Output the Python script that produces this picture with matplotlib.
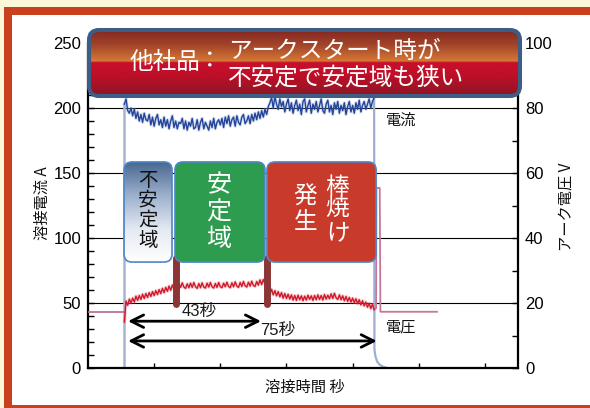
import numpy as np
import matplotlib
matplotlib.use("Agg")
import matplotlib.pyplot as plt
from matplotlib.patches import FancyBboxPatch, Rectangle
from matplotlib.ticker import MultipleLocator
import matplotlib.colors as mcolors

plt.rcParams['font.family'] = ['Liberation Sans', 'Noto Sans CJK JP', 'DejaVu Sans']
CJK = ['Noto Sans CJK JP', 'DejaVu Sans']

# ---------------- data ----------------
SAMPLE_STEP = 0.5          # s between samples
ARC_START = 11.0           # s, first sample of the weld
welding_current = [        # A
    203, 207, 198, 196, 200,
    194, 199, 192, 197, 190, 195, 189, 196, 191,
    190, 195, 187, 193, 186, 192, 195, 187, 191, 185, 193, 186, 191, 184, 190, 194, 185, 190, 184, 189,
    188, 192, 184, 190, 183, 189, 186, 192, 184, 185, 191, 183, 189, 192, 184, 189, 186, 183, 190, 185,
    192, 184, 189, 191,
    187, 192, 185, 193, 188, 194, 186, 191, 193, 186, 194, 189, 187, 193, 195, 188, 190, 194, 188, 195,
    190, 196,
    191, 197, 192, 198, 193, 199, 195, 201,
    204, 208, 200, 209, 203, 199, 207, 201,
    205, 197, 203, 207, 198, 204, 196, 202, 206, 198,
    203, 195, 205, 207, 197, 202, 206, 196, 203, 199,
    205, 197, 202, 207, 198, 196, 203, 206, 197, 202,
    195, 204, 199, 205, 196, 202, 198, 204, 195, 201,
    205, 197, 202, 196, 204, 199, 206, 197, 202, 205,
    199, 203, 207, 200, 205, 208,
]
arc_voltage = [            # V
    14.2, 20.6, 19.3, 21.2, 20.0,
    21.5, 20.3, 22.1, 20.8, 22.3, 21.1, 22.7, 21.4, 22.9,
    21.7, 23.2, 22.0, 23.5, 22.3, 23.8, 22.6, 24.1, 22.9, 24.5, 23.2, 24.8, 23.6, 25.2, 23.9, 25.5, 24.3,
    25.8, 24.6, 26.0, 24.8, 26.2, 24.9, 24.5, 25.9, 24.7, 26.1,
    24.8, 26.3, 25.0, 24.5, 26.0, 24.7, 26.2, 24.9, 24.6, 26.1,
    24.9, 26.3, 25.0, 24.6, 26.0, 24.8, 26.3, 25.0, 24.7, 26.1,
    25.0, 26.4, 25.1, 24.7, 26.2, 25.0, 26.5, 25.2, 24.8, 26.3,
    25.1, 26.6, 25.3, 24.9, 26.4, 25.2, 26.7, 25.4, 25.1, 26.6,
    25.5, 27.1, 25.7, 27.2, 25.9, 27.3,
    24.4, 22.8, 24.2, 22.5, 23.8, 22.2, 23.5, 21.9, 23.2, 21.5, 22.9, 21.4,
    22.7, 21.2, 22.5, 20.9, 22.3, 20.8, 22.4, 21.0, 22.2, 20.7,
    22.1, 20.9, 22.4, 21.1, 22.2, 20.8, 22.3, 21.0, 22.5, 21.1,
    22.3, 20.9, 22.6, 21.2, 22.4, 21.3, 22.8,
    21.4, 23.0, 21.6, 21.1, 22.5, 21.0, 22.2, 20.7, 22.0, 20.5, 21.7, 20.3, 21.5,
    20.1, 21.3, 19.8, 21.0, 19.4, 20.7, 19.1, 20.3, 18.7, 19.9, 18.3, 19.6, 18.0,
]
pre_arc_current_time = [0.0, 10.9, 10.9]
pre_arc_current = [0, 0, 203]
end_current_time = [86.5, 86.6, 86.9, 87.4, 88.2, 89.3, 90.5]
end_current = [208, 14, 9, 5, 2.5, 0.8, 0]
pre_arc_voltage_time = [0.0, 10.9]
pre_arc_voltage = [17.3, 17.3]
end_voltage_time = [86.5, 87.1, 87.2, 88.2, 88.4, 105.5]
end_voltage = [18.0, 18.4, 55.4, 55.4, 17.3, 17.3]

zone_labels = ['不安定域', '安定域', '棒焼け発生']
zone_spans = [(10.9, 25.4), (26.3, 53.5), (54.1, 87.1)]   # s
boundary_times = [26.5, 54.1]                              # s
arrow_start = 12.1
arrow_ends = [52.3, 87.3]
arrow_labels = ['43秒', '75秒']

left_ticks = [0, 50, 100, 150, 200, 250]
right_ticks = [0, 20, 40, 60, 80, 100]
x_ticks = [20, 40, 60, 80, 100, 120]
grid_levels = [50, 100, 150, 200]

title_head = '他社品'
title_lines = ['アークスタート時が', '不安定で安定域も狭い']

# ---------------- figure ----------------
W, H = 590, 408
fig = plt.figure(figsize=(W / 100, H / 100), dpi=100)
fig.patch.set_facecolor('#fdf7da')

bg = fig.add_axes([0, 0, 1, 1], zorder=-5)
bg.set_xlim(0, W); bg.set_ylim(0, H); bg.axis('off')
bg.add_patch(Rectangle((4, -20), 700, H - 7 + 20, facecolor='#c8401d', edgecolor='none'))
bg.add_patch(Rectangle((12, 3), 700, H - 15 - 3, facecolor='white', edgecolor='none'))

ax = fig.add_axes([88 / W, 40 / H, 430 / W, 325 / H])
ax.set_zorder(1)
ax.set_facecolor('none')
ax2 = ax.twinx()
ax2.set_zorder(2)
ax.set_xlim(0, 130); ax.set_ylim(0, 250)
ax2.set_ylim(0, 100)

for g in grid_levels:
    ax.axhline(g, color='black', lw=0.8, zorder=1)

# current
t_cur = ARC_START + SAMPLE_STEP * np.arange(len(welding_current))
ax.plot(pre_arc_current_time, pre_arc_current, color='#a7b3d5', lw=1.8, zorder=2)
ax.plot(end_current_time, end_current, color='#9eadd2', lw=1.6, zorder=2)
ax.plot(t_cur, welding_current, color='#8ea3d3', lw=2.4, alpha=0.35, zorder=2.5)
ax.plot(t_cur, welding_current, color='#23449a', lw=1.0, zorder=3)

# voltage
t_vol = ARC_START + SAMPLE_STEP * np.arange(len(arc_voltage))
ax2.plot(pre_arc_voltage_time, pre_arc_voltage, color='#b8668c', lw=1.2, zorder=2)
ax2.plot(end_voltage_time, end_voltage, color='#c47899', lw=1.3, zorder=2)
ax2.plot(t_vol, arc_voltage, color='#e27a84', lw=2.4, alpha=0.35, zorder=2.5)
ax2.plot(t_vol, arc_voltage, color='#d0192a', lw=1.0, zorder=3)

# zone boundary bars
for tb in boundary_times:
    ax2.plot([tb, tb], [49.2, 85], transform=ax.transData, color='#8b3536', lw=5,
             solid_capstyle='round', zorder=4)

# duration arrows
arrow_y = [36, 20.8]
label_pos = [(33.6, 43.8), (57.3, 28.5)]
for end, y, lab, (lx, ly) in zip(arrow_ends, arrow_y, arrow_labels, label_pos):
    ax2.annotate('', xy=(end, y), xytext=(arrow_start, y), xycoords=ax.transData,
                 textcoords=ax.transData,
                 arrowprops=dict(arrowstyle='<->,head_length=0.9,head_width=0.45', lw=2.0,
                                 color='black', shrinkA=0, shrinkB=0, mutation_scale=10),
                 zorder=5)
    ax2.text(lx, ly, lab, transform=ax.transData, ha='center', va='center', fontsize=12,
             color='#1a1a1a', zorder=5)

ax2.text(94.8, 190.8, '電流', transform=ax.transData, ha='center', va='center',
         fontsize=11, family=CJK, color='#111111')
ax2.text(94.8, 31.9, '電圧', transform=ax.transData, ha='center', va='center',
         fontsize=11, family=CJK, color='#111111')

# ticks / spines
ax.set_yticks(left_ticks)
ax.set_yticklabels([str(v) for v in left_ticks])
ax.yaxis.set_minor_locator(MultipleLocator(10))
ax.tick_params(axis='y', which='both', direction='in', length=4.6, width=1.0,
               labelsize=12, pad=5)
ax.set_xticks(x_ticks)
ax.tick_params(axis='x', which='both', direction='in', length=3.6, width=1.0,
               labelbottom=False)
ax2.set_yticks(right_ticks)
ax2.set_yticklabels([str(v) for v in right_ticks])
ax2.yaxis.set_minor_locator(MultipleLocator(10))
ax2.tick_params(axis='y', which='both', direction='in', length=4.6, width=1.0,
                labelsize=12, pad=5)
ax.spines['top'].set_visible(False)
ax.spines['right'].set_visible(False)
for s in ('left', 'bottom'):
    ax.spines[s].set_linewidth(1.6)
for s in ('top', 'left', 'bottom'):
    ax2.spines[s].set_visible(False)
ax2.spines['right'].set_linewidth(1.6)
ax.set_xlim(0, 130); ax.set_ylim(0, 250); ax2.set_ylim(0, 100)

# ---------------- overlay (pixel coordinates) ----------------
ov = fig.add_axes([0, 0, 1, 1], zorder=3)
ov.set_facecolor('none')
ov.set_xlim(0, W); ov.set_ylim(0, H); ov.axis('off')


def vgrad(ys_img, stops_y, stops_c):
    rgb = np.array([mcolors.to_rgb(c) for c in stops_c])
    return np.stack([np.interp(ys_img, stops_y, rgb[:, k]) for k in range(3)], axis=1)[:, None, :]


def d2p(t, a):
    return ax.transData.transform((t, a))


box_lo, box_hi = 81.5, 158.5
zone_fill = [None, '#2e9c4e', '#c83b2a']
zone_rects = []
for (t0, t1), fill in zip(zone_spans, zone_fill):
    x0, y0 = d2p(t0, box_lo)
    x1, y1 = d2p(t1, box_hi)
    zone_rects.append((x0, y0, x1, y1))
    patch = FancyBboxPatch((x0, y0), x1 - x0, y1 - y0,
                           boxstyle='round,pad=0,rounding_size=8',
                           facecolor=fill if fill else 'none', edgecolor='#4f86c6', lw=1.2,
                           zorder=2)
    ov.add_patch(patch)
    if fill is None:
        ys = np.linspace(H - y1, H - y0, 100)
        g = vgrad(ys, [H - y1, H - y1 + 33, H - y1 + 68, H - y0],
                  ['#46668f', '#9aaecb', '#e4eaf2', '#ffffff'])
        im = ov.imshow(g, extent=(x0, x1, y0, y1), origin='upper', aspect='auto', zorder=1.5)
        im.set_clip_path(patch)


def vchars(x, yc, offsets, chars, size, color):
    for c, off in zip(chars, offsets):
        ov.text(x, yc - off, c, ha='center', va='center', fontsize=size, color=color,
                family=CJK, zorder=3)


(x0, y0, x1, y1) = zone_rects[0]
vchars((x0 + x1) / 2, (y0 + y1) / 2, [-31.5, -11.5, 8.5, 29], zone_labels[0], 14, '#111111')
(x0, y0, x1, y1) = zone_rects[1]
vchars((x0 + x1) / 2 - 1, (y0 + y1) / 2, [-27, 0.5, 27], zone_labels[1], 18, 'white')
(x0, y0, x1, y1) = zone_rects[2]
xc, yc = (x0 + x1) / 2, (y0 + y1) / 2
vchars(xc + 16, yc, [-25, -3.5, 20.5], zone_labels[2][:3], 17, 'white')
vchars(xc - 16, yc, [-14.5, 10.5], zone_labels[2][3:], 17, 'white')

# title banner
tx0, tx1, ty0, ty1 = 87, 522, 28, 98
ys = np.linspace(ty0, ty1, 200)
g = vgrad(ys, [28, 45, 61, 62.5, 75, 98],
          ['#80231f', '#a3452a', '#d67835', '#c80f2c', '#bf0f29', '#861824'])
banner = FancyBboxPatch((tx0 + 2, H - ty1 + 2), tx1 - tx0 - 4, ty1 - ty0 - 4,
                        boxstyle='round,pad=0,rounding_size=10',
                        facecolor='none', edgecolor='#3b5d86', lw=2.9, zorder=6)
ov.add_patch(banner)
im = ov.imshow(g, extent=(tx0, tx1, H - ty1, H - ty0), origin='upper', aspect='auto', zorder=5)
im.set_clip_path(banner)
ov.text(165, H - 62.5, title_head, ha='center', va='center', fontsize=17, color='white',
        family=CJK, zorder=7)
ov.text(210, H - 62, '：', ha='center', va='center', fontsize=17, color='white',
        family=CJK, zorder=7)
ov.text(228, H - 51, title_lines[0], ha='left', va='center', fontsize=17, color='white',
        family=CJK, zorder=7)
ov.text(228, H - 78, title_lines[1], ha='left', va='center', fontsize=17, color='white',
        family=CJK, zorder=7)

# axis titles
ov.text(42, H - 203, '溶接電流 A', rotation=90, ha='center', va='center', fontsize=11,
        family=CJK, color='#111111')
ov.text(566, H - 207, 'アーク電圧 V', rotation=90, ha='center', va='center', fontsize=11,
        family=CJK, color='#111111')
ov.text(305, H - 387, '溶接時間 秒', ha='center', va='center', fontsize=11,
        family=CJK, color='#111111')
ov.set_xlim(0, W); ov.set_ylim(0, H)

fig.savefig('out.png', dpi=100)
